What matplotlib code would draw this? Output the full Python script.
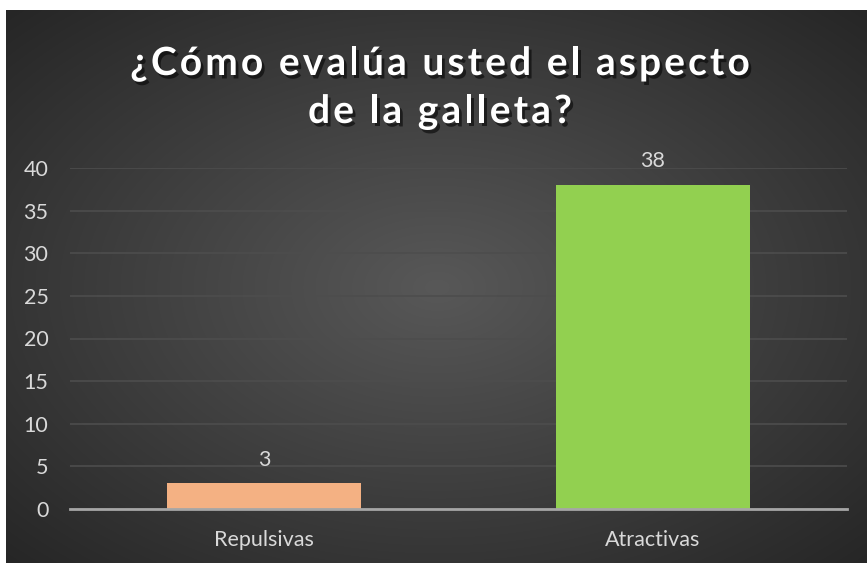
import numpy as np
import matplotlib
matplotlib.use("Agg")
import matplotlib.pyplot as plt
import matplotlib.patheffects as pe
from matplotlib.font_manager import FontProperties
from matplotlib.textpath import TextToPath

categories = ["Repulsivas", "Atractivas"]
values = [3, 38]
colors = ["#F4B183", "#92D050"]
yticks = [0, 5, 10, 15, 20, 25, 30, 35, 40]
title_lines = ["¿Cómo evalúa usted el aspecto", "de la galleta?"]

W, H = 867, 563
DPI = 100
fig = plt.figure(figsize=(W / DPI, H / DPI), dpi=DPI)
fig.patch.set_facecolor("white")

# background with radial gradient
bg = fig.add_axes([6 / W, 0, 861 / W, 553 / H])
bg.set_axis_off()
ny, nx = 300, 470
yy, xx = np.mgrid[0:ny, 0:nx]
cx, cy = nx * 0.5, ny * 0.5
r = np.sqrt(((xx - cx) / (nx * 0.5)) ** 2 + ((yy - cy) / (ny * 0.5)) ** 2) / np.sqrt(2)
r = np.clip(r, 0, 1)
c0, c1 = 0x58 / 255, 0x26 / 255
g = c0 + (c1 - c0) * r
img = np.dstack([g, g, g])
bg.imshow(img, aspect="auto", extent=[0, 1, 0, 1], interpolation="bilinear")
bg.set_xlim(0, 1)
bg.set_ylim(0, 1)

FONT = "Lato"
lab_size = 15.5

ax = fig.add_axes([70 / W, (H - 509) / H, (847 - 70) / W, (509 - 168) / H])
ax.patch.set_alpha(0)
x = np.arange(len(categories))
bars = ax.bar(x, values, width=0.5, color=colors, zorder=3)
ax.set_xlim(-0.5, 1.5)
ax.set_ylim(0, 40)
ax.set_yticks(yticks)
ax.set_xticks(x)
ax.set_xticklabels(categories)
ax.yaxis.grid(True, color="#4d4d4d", linewidth=1.2, zorder=0)
ax.set_axisbelow(True)
for s in ["top", "right", "left"]:
    ax.spines[s].set_visible(False)
ax.spines["bottom"].set_color("#a6a6a6")
ax.spines["bottom"].set_linewidth(2)
ax.spines["bottom"].set_zorder(4)
ax.tick_params(axis="both", length=0, labelcolor="#d9d9d9", labelsize=lab_size)
ax.tick_params(axis="y", pad=15.5)
ax.tick_params(axis="x", pad=15)
for lab in ax.get_xticklabels() + ax.get_yticklabels():
    lab.set_family(FONT)
for b, v in zip(bars, values):
    ax.text(b.get_x() + b.get_width() / 2, v + 2.1, str(v), ha="center", va="baseline",
            color="#d9d9d9", fontsize=lab_size, family=FONT)

# Title with letter spacing
t_size = 28
fp = FontProperties(family=FONT, weight="bold", size=t_size)
t2p = TextToPath()


def text_w(s):
    w, h, d = t2p.get_text_width_height_descent(s, fp, ismath=False)
    return w * DPI / 72.0


spacing = 3.1  # px between characters
shadow = [pe.withSimplePatchShadow(offset=(2, -2.5), shadow_rgbFace="black", alpha=0.55)]
baselines = [75, 123]
for line, yb in zip(title_lines, baselines):
    n = len(line)
    total = text_w(line) + spacing * (n - 1)
    x0 = 440 - total / 2
    for i, ch in enumerate(line):
        xp = x0 + (text_w(line[:i]) if i else 0) + spacing * i
        fig.text(xp / W, 1 - yb / H, ch, ha="left", va="baseline", color="white",
                 fontproperties=fp, path_effects=shadow)

fig.savefig("out.png", dpi=DPI)
